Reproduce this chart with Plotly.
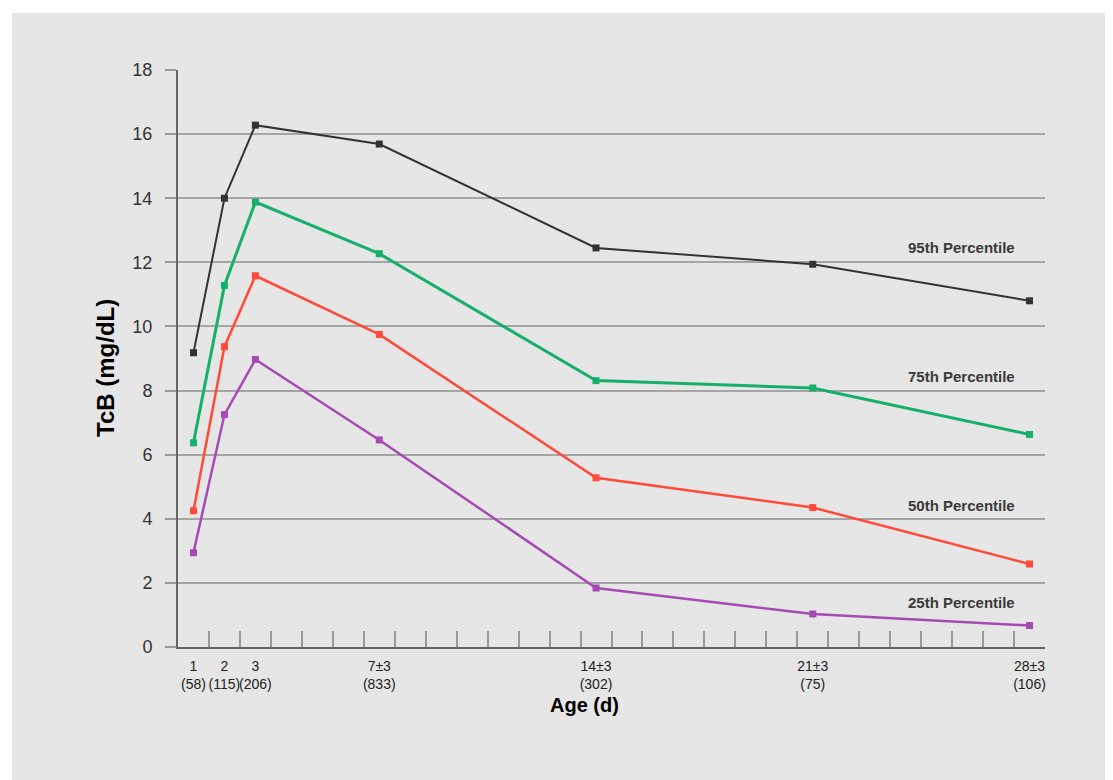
import plotly.graph_objects as go

days = [1, 2, 3, 7, 14, 21, 28]
tick_labels = ["1<br>(58)", "2<br>(115)", "3<br>(206)", "7±3<br>(833)", "14±3<br>(302)", "21±3<br>(75)", "28±3<br>(106)"]
p95 = [9.18, 14.0, 16.28, 15.69, 12.45, 11.94, 10.8]
p75 = [6.37, 11.28, 13.88, 12.27, 8.31, 8.08, 6.63]
p50 = [4.25, 9.37, 11.58, 9.75, 5.28, 4.35, 2.59]
p25 = [2.94, 7.25, 8.97, 6.46, 1.84, 1.03, 0.67]
series_names = ["95th Percentile", "75th Percentile", "50th Percentile", "25th Percentile"]
label_y = [12.15, 8.12, 4.1, 1.07]
minor_ticks = [d + 0.5 for d in range(1, 29)]

colors = ["#333333", "#17b06a", "#ff4a3a", "#a64bb4"]
widths = [2, 3, 2.5, 2.5]

fig = go.Figure()
for vals, c, w, n in zip([p95, p75, p50, p25], colors, widths, series_names):
    fig.add_trace(go.Scatter(x=days, y=vals, mode="lines+markers", name=n,
                             line=dict(color=c, width=w),
                             marker=dict(symbol="square", size=7, color=c),
                             showlegend=False))

# invisible trace on secondary x-axis for the day labels
fig.add_trace(go.Scatter(x=days, y=[None]*len(days), xaxis="x2", showlegend=False, hoverinfo="skip"))

for n, yv in zip(series_names, label_y):
    fig.add_annotation(x=27.6, y=yv, text="<b>" + n + "</b>", showarrow=False, xanchor="right", yanchor="bottom",
                       font=dict(family="Arial", size=15, color="#3a3a3a"))

W, H = 1105, 772
L, T = 170, 62
PW, PH = 867, 577

# axis titles as annotations
fig.add_annotation(xref="paper", yref="paper", x=(576 - L) / PW, y=(T + PH - 697) / PH,
                   text="<b>Age (d)</b>", showarrow=False, xanchor="center", yanchor="middle",
                   font=dict(family="Arial", size=20, color="black"))
fig.add_annotation(xref="paper", yref="paper", x=(97 - L) / PW, y=(T + PH - 360) / PH,
                   text="<b>TcB (mg/dL)</b>", showarrow=False, xanchor="center", yanchor="middle", textangle=-90,
                   font=dict(family="Arial", size=24, color="black"))

fig.update_layout(
    width=W, height=H,
    margin=dict(l=L, r=W - L - PW, t=T, b=H - T - PH, pad=0),
    paper_bgcolor="white",
    plot_bgcolor="white",
    xaxis=dict(range=[0.5, 28.5], tickvals=minor_ticks, ticks="inside", ticklen=16, tickwidth=2,
               tickcolor="#999999", showticklabels=False, showgrid=False, showline=True,
               linecolor="#666666", linewidth=2, zeroline=False),
    xaxis2=dict(range=[0.5, 28.5], overlaying="x", side="bottom", tickvals=days, ticktext=tick_labels,
                tickangle=0, ticks="", showgrid=False, showline=False, zeroline=False, ticklabelstandoff=9,
                tickfont=dict(family="Liberation Sans Narrow, Arial", size=14, color="#222222")),
    yaxis=dict(range=[0, 18], tickvals=list(range(0, 19, 2)), ticks="outside", ticklen=11, tickwidth=2,
               tickcolor="#999999", showgrid=True, gridcolor="#a5a5a5", gridwidth=2, showline=True,
               linecolor="#666666", linewidth=2, zeroline=False, ticklabelstandoff=9,
               tickfont=dict(family="Arial", size=18, color="#333333")),
    shapes=[dict(type="rect", xref="paper", yref="paper", x0=(4 - L) / PW, x1=(W - L) / PW,
                 y0=-(H - T - PH) / PH, y1=(T + PH - 5) / PH, fillcolor="#e6e6e6", line=dict(width=0), layer="below")],
)

fig.write_html("out.html")
